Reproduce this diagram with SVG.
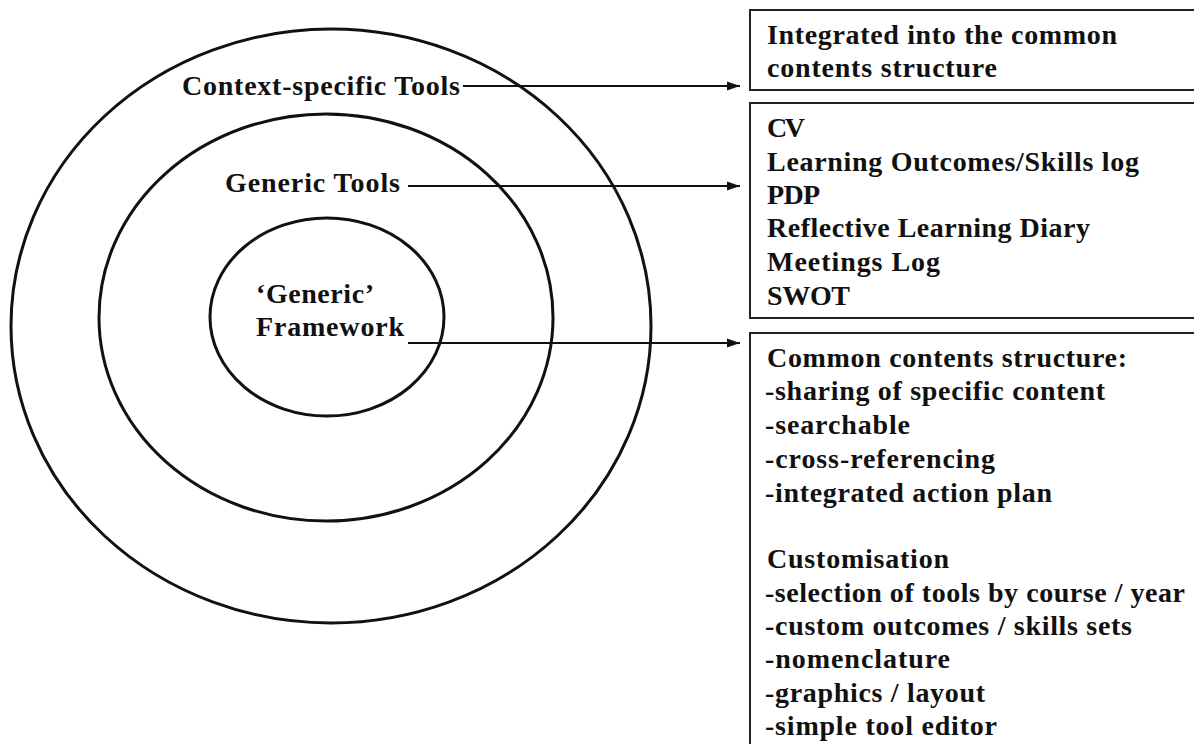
<svg xmlns="http://www.w3.org/2000/svg" width="1194" height="744" viewBox="0 0 1194 744">
  <style>
    .ring { fill: none; stroke: #111; stroke-width: 3; }
    .box { fill: #fff; stroke: #222; stroke-width: 2; }
    .conn { stroke: #111; stroke-width: 2; fill: none; }
    text { font-family: "Liberation Serif", "Times New Roman", serif; font-weight: bold; font-size: 28px; fill: #111; }
  </style>
  <defs>
    <marker id="arrow" markerUnits="userSpaceOnUse" markerWidth="14" markerHeight="10" refX="13" refY="5" orient="auto">
      <path d="M0,0.5 L13,5 L0,9.5 z" fill="#111"/>
    </marker>
  </defs>
  <rect width="1194" height="744" fill="#fff"/>

  <g id="ring-context">
    <ellipse class="ring" cx="331" cy="326" rx="320" ry="297"/>
    <text x="182" y="95" textLength="278" lengthAdjust="spacing">Context-specific Tools</text>
  </g>
  <g id="ring-generic">
    <ellipse class="ring" cx="326" cy="317.5" rx="227" ry="203.5"/>
    <text x="225" y="192" textLength="175" lengthAdjust="spacing">Generic Tools</text>
  </g>
  <g id="ring-framework">
    <ellipse class="ring" cx="327" cy="317" rx="117" ry="99"/>
    <text x="256" y="303" textLength="118" lengthAdjust="spacing">‘Generic’</text>
    <text x="256" y="336" textLength="148" lengthAdjust="spacing">Framework</text>
  </g>

  <g id="box-integrated">
    <rect class="box" x="750" y="10" width="460" height="80"/>
    <text x="767" y="44" textLength="350" lengthAdjust="spacing">Integrated into the common</text>
    <text x="767" y="77" textLength="230" lengthAdjust="spacing">contents structure</text>
  </g>
  <g id="box-generic-tools">
    <rect class="box" x="750" y="103" width="460" height="215"/>
    <text x="767" y="137" textLength="38" lengthAdjust="spacing">CV</text>
    <text x="767" y="171" textLength="372" lengthAdjust="spacing">Learning Outcomes/Skills log</text>
    <text x="767" y="204" textLength="53" lengthAdjust="spacing">PDP</text>
    <text x="767" y="237" textLength="323" lengthAdjust="spacing">Reflective Learning Diary</text>
    <text x="767" y="271" textLength="173" lengthAdjust="spacing">Meetings Log</text>
    <text x="767" y="305" textLength="83" lengthAdjust="spacing">SWOT</text>
  </g>
  <g id="box-framework">
    <rect class="box" x="750" y="333" width="460" height="430"/>
    <text x="767" y="367" textLength="360" lengthAdjust="spacing">Common contents structure:</text>
    <text x="765" y="400" textLength="340" lengthAdjust="spacing">-sharing of specific content</text>
    <text x="765" y="434" textLength="145" lengthAdjust="spacing">-searchable</text>
    <text x="765" y="468" textLength="230" lengthAdjust="spacing">-cross-referencing</text>
    <text x="765" y="502" textLength="287" lengthAdjust="spacing">-integrated action plan</text>
    <text x="767" y="568" textLength="182" lengthAdjust="spacing">Customisation</text>
    <text x="765" y="602" textLength="420" lengthAdjust="spacing">-selection of tools by course / year</text>
    <text x="765" y="635" textLength="367" lengthAdjust="spacing">-custom outcomes / skills sets</text>
    <text x="765" y="668" textLength="185" lengthAdjust="spacing">-nomenclature</text>
    <text x="765" y="702" textLength="220" lengthAdjust="spacing">-graphics / layout</text>
    <text x="765" y="735" textLength="232" lengthAdjust="spacing">-simple tool editor</text>
  </g>

  <g id="connectors">
    <line class="conn" x1="463" y1="86" x2="740" y2="86" marker-end="url(#arrow)"/>
    <line class="conn" x1="408" y1="186" x2="740" y2="186" marker-end="url(#arrow)"/>
    <line class="conn" x1="408" y1="343" x2="740" y2="343" marker-end="url(#arrow)"/>
  </g>
</svg>
